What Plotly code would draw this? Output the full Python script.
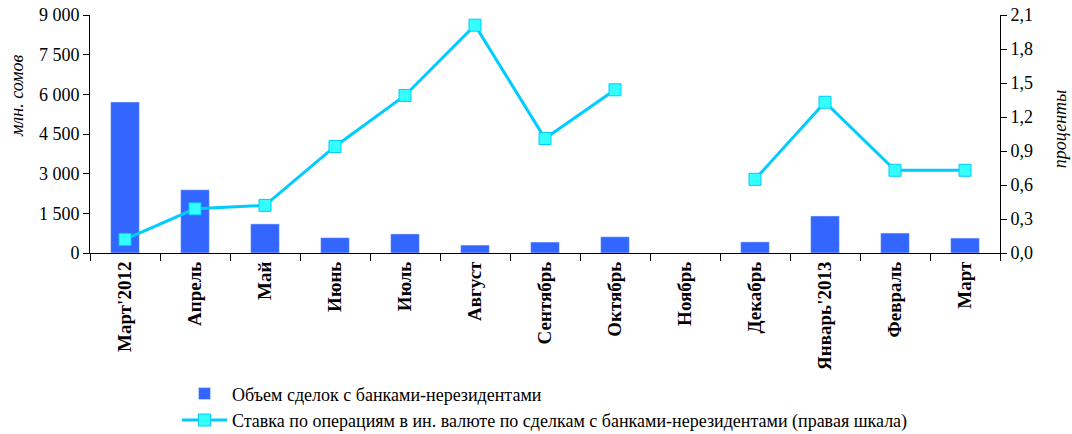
import plotly.graph_objects as go

categories = ["Март'2012", "Апрель", "Май", "Июнь", "Июль", "Август", "Сентябрь",
              "Октябрь", "Ноябрь", "Декабрь", "Январь'2013", "Февраль", "Март"]
volume = [5710, 2390, 1100, 580, 720, 300, 415, 615, None, 420, 1400, 755, 565]
rate = [0.12, 0.39, 0.42, 0.94, 1.39, 2.01, 1.01, 1.44, None, 0.65, 1.33, 0.73, 0.73]

bar_name = "Объем сделок с банками-нерезидентами"
line_name = "Ставка по операциям в ин. валюте по сделкам с банками-нерезидентами (правая шкала)"

font_family = "Liberation Serif"

fig = go.Figure()
fig.add_trace(go.Bar(x=categories, y=volume, name=bar_name, marker_color="#3366FF",
                     width=0.41, yaxis="y"))
fig.add_trace(go.Scatter(x=categories, y=rate, name=line_name, yaxis="y2",
                         mode="lines+markers", connectgaps=False,
                         line=dict(color="#00CCFF", width=3),
                         marker=dict(symbol="square", size=12, color="#33FFFF",
                                     line=dict(color="#00CCFF", width=1))))

fig.update_layout(
    width=1072, height=434,
    margin=dict(l=90, r=72, t=15, b=181, autoexpand=False),
    paper_bgcolor="white", plot_bgcolor="white",
    font=dict(family=font_family, size=18, color="black"),
    separators=", ",
    showlegend=True,
    legend=dict(orientation="v", x=0.0956, xanchor="left", y=0.135, yanchor="top",
                yref="container", xref="paper", itemwidth=45,
                font=dict(size=18, family=font_family), tracegroupgap=0,
                bgcolor="rgba(0,0,0,0)"),
    xaxis=dict(type="category", range=[-0.5, 12.5], tickangle=-90, showline=True,
               linecolor="black", linewidth=1, ticks="outside", tickson="boundaries",
               ticklen=7, tickcolor="black", automargin=False,
               tickfont=dict(size=19, family=font_family, weight="bold"),
               showgrid=False, zeroline=False),
    yaxis=dict(range=[0, 9000], dtick=1500, tickformat=",.0f", showline=True,
               linecolor="black", ticks="outside", ticklen=6, tickcolor="black",
               automargin=False, showgrid=False, zeroline=False,
               tickfont=dict(size=18)),
    yaxis2=dict(range=[0, 2.1], dtick=0.3, tickformat=".1f", overlaying="y", side="right",
                showline=True, linecolor="black", ticks="outside", ticklen=6,
                automargin=False, tickcolor="black", showgrid=False, zeroline=False,
                tickfont=dict(size=18)),
    annotations=[
        dict(text="<i>млн. сомов</i>", xref="paper", yref="paper", x=-0.08, y=0.66,
             textangle=-90, showarrow=False, font=dict(size=18, family=font_family),
             xanchor="center", yanchor="middle"),
        dict(text="<i>проценты</i>", xref="paper", yref="paper", x=1.066, y=0.52,
             textangle=-90, showarrow=False, font=dict(size=18, family=font_family),
             xanchor="center", yanchor="middle"),
    ],
)

fig.write_html("out.html", config={"displayModeBar": False},
               post_script="document.body.style.margin='0';document.body.style.overflow='hidden';")
